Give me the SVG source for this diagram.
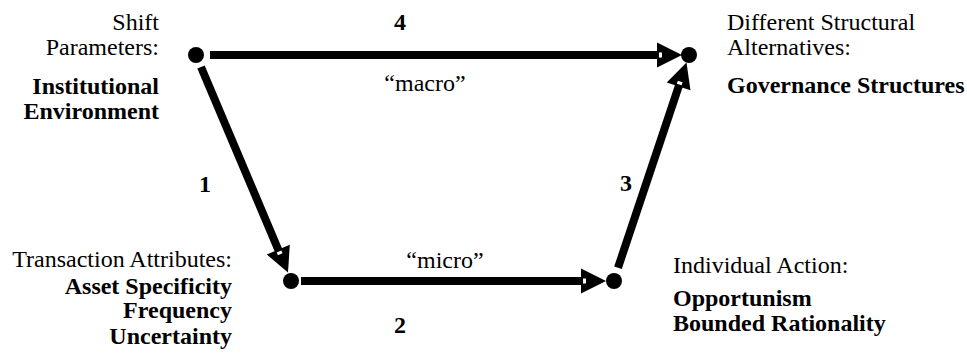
<svg xmlns="http://www.w3.org/2000/svg" xmlns:xlink="http://www.w3.org/1999/xlink" width="967" height="358" viewBox="0 0 967 358">
<style>
text{font-family:"Liberation Serif","Times New Roman",serif;font-size:24px;fill:#000}
.b{font-weight:bold}
.r{text-anchor:end}
.m{text-anchor:middle}
.shaft{stroke:#000;stroke-width:8;fill:none}
</style>
<defs>
<g id="head">
<polygon points="0,0 -25,-12.5 -25,12.5" fill="#000"/>
<rect x="-23" y="-2.5" width="3" height="5" fill="#fff"/>
</g>
</defs>
<rect width="967" height="358" fill="#fff"/>
<g id="connectors">
<line class="shaft" x1="210" y1="55" x2="660" y2="55"/>
<use xlink:href="#head" transform="translate(682,55)"/>
<line class="shaft" x1="201" y1="67" x2="278.6" y2="250.5"/>
<use xlink:href="#head" transform="translate(288,272.6) rotate(67.1)"/>
<line class="shaft" x1="301" y1="281" x2="584" y2="281"/>
<use xlink:href="#head" transform="translate(606,281)"/>
<line class="shaft" x1="618" y1="267.7" x2="679" y2="85.5"/>
<use xlink:href="#head" transform="translate(686.5,62.6) rotate(-71.6)"/>
<text class="b m" x="400" y="30">4</text>
<text class="b m" x="205" y="192">1</text>
<text class="b m" x="400" y="333">2</text>
<text class="b m" x="626" y="191">3</text>
<text class="m" x="425" y="91">“macro”</text>
<text class="m" x="445" y="268">“micro”</text>
</g>
<g id="n-institutional">
<circle cx="196" cy="55" r="8"/>
<text class="r" x="159" y="30">Shift</text>
<text class="r" x="159" y="55">Parameters:</text>
<text class="r b" x="159" y="94">Institutional</text>
<text class="r b" x="159" y="119">Environment</text>
</g>
<g id="n-governance">
<circle cx="689" cy="55" r="8"/>
<text x="727" y="30">Different Structural</text>
<text x="727" y="55">Alternatives:</text>
<text class="b" x="727" y="93">Governance Structures</text>
</g>
<g id="n-transaction">
<circle cx="291" cy="281" r="8"/>
<text class="r" x="232" y="267">Transaction Attributes:</text>
<text class="r b" x="232" y="294">Asset Specificity</text>
<text class="r b" x="232" y="318">Frequency</text>
<text class="r b" x="232" y="344">Uncertainty</text>
</g>
<g id="n-individual">
<circle cx="614" cy="281" r="8"/>
<text x="673" y="273">Individual Action:</text>
<text class="b" x="673" y="306">Opportunism</text>
<text class="b" x="673" y="331">Bounded Rationality</text>
</g>
</svg>
